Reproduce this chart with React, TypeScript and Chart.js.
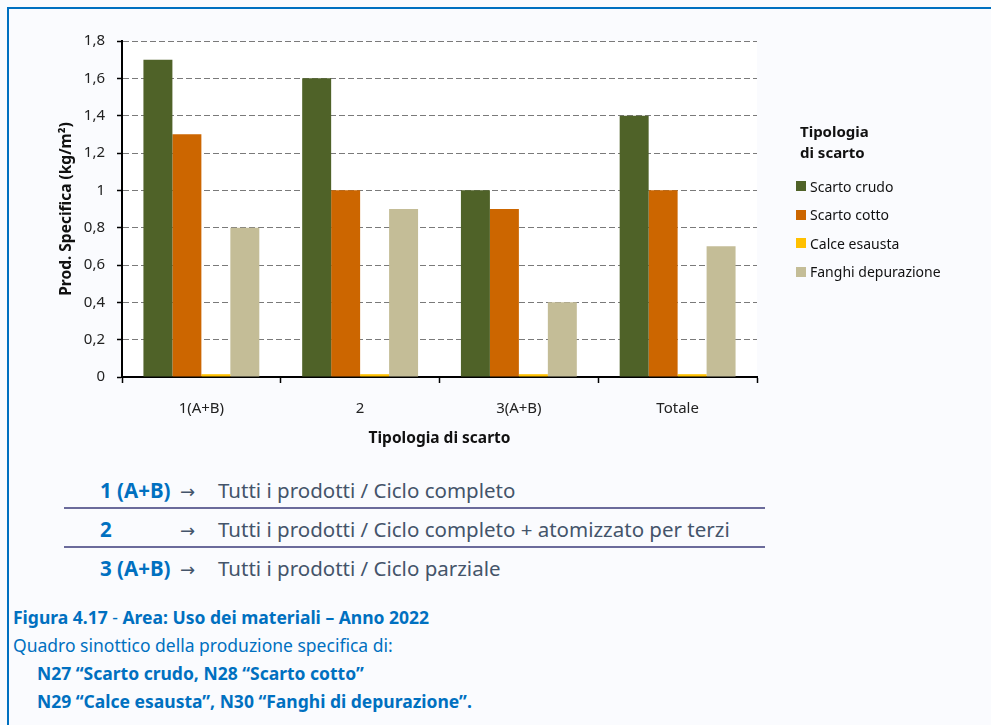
import React, { useEffect, useRef } from "react";
import { Chart, registerables } from "chart.js";

Chart.register(...registerables);

const categories = ["1(A+B)", "2", "3(A+B)", "Totale"];
const seriesNames = ["Scarto crudo", "Scarto cotto", "Calce esausta", "Fanghi depurazione"];
const scartoCrudo = [1.7, 1.6, 1.0, 1.4];
const scartoCotto = [1.3, 1.0, 0.9, 1.0];
const calceEsausta = [0.015, 0.015, 0.015, 0.015];
const fanghiDepurazione = [0.8, 0.9, 0.4, 0.7];
const seriesColors = ["#4F6228", "#CC6600", "#FFC000", "#C4BD97"];
const yMin = 0;
const yMax = 1.8;
const yStep = 0.2;

const yTitle = "Prod. Specifica (kg/m²)";
const xTitle = "Tipologia di scarto";
const legendTitle = ["Tipologia", "di scarto"];

const tableRows = [
  { code: "1 (A+B)", text: "Tutti i prodotti / Ciclo completo" },
  { code: "2", text: "Tutti i prodotti / Ciclo completo + atomizzato per terzi" },
  { code: "3 (A+B)", text: "Tutti i prodotti / Ciclo parziale" },
];

const FONT = "'Noto Sans', 'Open Sans', sans-serif";
const BLUE = "#0070C0";

const chartAreaBg = {
  id: "chartAreaBg",
  beforeDraw(chart: any) {
    const { ctx, chartArea } = chart;
    if (!chartArea) return;
    ctx.save();
    ctx.fillStyle = "#FFFFFF";
    ctx.fillRect(chartArea.left, chartArea.top, chartArea.right - chartArea.left, chartArea.bottom - chartArea.top);
    ctx.restore();
  },
};

export default function App() {
  const ref = useRef<HTMLCanvasElement | null>(null);

  useEffect(() => {
    if (!ref.current) return;
    const data = [scartoCrudo, scartoCotto, calceEsausta, fanghiDepurazione];
    const chart = new Chart(ref.current, {
      type: "bar",
      data: {
        labels: categories,
        datasets: seriesNames.map((name, i) => ({
          label: name,
          data: data[i],
          backgroundColor: seriesColors[i],
          borderWidth: 0,
          categoryPercentage: 0.73,
          barPercentage: 1,
        })),
      },
      options: {
        responsive: false,
        animation: false,
        devicePixelRatio: 1,
        layout: { padding: { left: 50, right: 234, top: 41, bottom: 0 } },
        plugins: {
          legend: { display: false },
          tooltip: { enabled: false },
        },
        scales: {
          x: {
            offset: true,
            grid: {
              offset: true,
              drawOnChartArea: false,
              drawTicks: true,
              tickLength: 6,
              tickColor: "#000",
              tickWidth: 1.5,
            },
            border: { color: "#000", width: 2 },
            ticks: { color: "#222", font: { family: FONT, size: 15 }, padding: 17 },
            title: {
              display: true,
              text: xTitle,
              color: "#111",
              font: { family: FONT, size: 15.5, weight: "bold" },
              padding: { top: 0, bottom: 12 },
            },
            afterFit: (s: any) => {
              s.height = 83;
            },
          },
          y: {
            min: yMin,
            max: yMax,
            grid: {
              color: "#7A7A7A",
              lineWidth: 1,
              tickLength: 5,
              tickColor: "#000",
              tickWidth: 1.5,
              tickBorderDash: [],
            },
            border: { color: "#000", width: 2, dash: [6, 3] },
            ticks: {
              stepSize: yStep,
              color: "#222",
              font: { family: FONT, size: 15 },
              padding: 12,
              callback: (v: any) => String(+Number(v).toFixed(1)).replace(".", ","),
            },
            title: {
              display: true,
              text: yTitle,
              color: "#111",
              font: { family: FONT, size: 15.5, weight: "bold" },
              padding: { top: 7, bottom: 0 },
            },
            afterFit: (s: any) => {
              s.width = 72;
            },
          },
        },
      },
      plugins: [chartAreaBg],
    });
    return () => chart.destroy();
  }, []);

  const rowTops = [477, 516, 555];
  return (
    <div
      style={{
        position: "absolute",
        left: 0,
        top: 0,
        width: 991,
        height: 725,
        background: "#FAFBFE",
        overflow: "hidden",
        fontFamily: FONT,
      }}
    >
      <div
        style={{
          position: "absolute",
          left: 7,
          top: 7,
          width: 991,
          height: 725,
          borderTop: `2px solid ${BLUE}`,
          borderLeft: `2px solid ${BLUE}`,
        }}
      />
      <canvas ref={ref} width={991} height={460} style={{ position: "absolute", left: 0, top: 0, width: 991, height: 460 }} />
      {/* legend */}
      <div style={{ position: "absolute", left: 800, top: 121, fontSize: 15, fontWeight: 700, color: "#111", lineHeight: "21px" }}>
        {legendTitle.map((t) => (
          <div key={t}>{t}</div>
        ))}
      </div>
      {seriesNames.map((name, i) => (
        <div key={name} style={{ position: "absolute", left: 796, top: 176 + i * 28.5, height: 20, display: "flex", alignItems: "center", fontSize: 14, color: "#111" }}>
          <span style={{ display: "inline-block", width: 10, height: 10, background: seriesColors[i], marginRight: 4 }} />
          <span>{name}</span>
        </div>
      ))}
      {/* table */}
      {tableRows.map((r, i) => (
        <div key={r.code} style={{ position: "absolute", left: 100, top: rowTops[i], height: 26, fontSize: 20.5, lineHeight: "26px", whiteSpace: "nowrap" }}>
          <span style={{ position: "absolute", left: 0, color: BLUE, fontWeight: 700 }}>{r.code}</span>
          <span style={{ position: "absolute", left: 80, top: 2, color: "#44546A", fontFamily: "'DejaVu Sans', sans-serif", fontSize: 18, lineHeight: "26px" }}>→</span>
          <span style={{ position: "absolute", left: 118, color: "#44546A" }}>{r.text}</span>
        </div>
      ))}
      <div style={{ position: "absolute", left: 64, top: 507, width: 701, height: 2, background: "#6B6B9B" }} />
      <div style={{ position: "absolute", left: 64, top: 546, width: 701, height: 2, background: "#6B6B9B" }} />
      {/* caption */}
      <div style={{ position: "absolute", left: 13, top: 603, color: BLUE, fontSize: 17.5, lineHeight: "28px", whiteSpace: "nowrap" }}>
        <div>
          <b>Figura 4.17</b> - <b>Area: Uso dei materiali – Anno 2022</b>
        </div>
        <div>Quadro sinottico della produzione specifica di:</div>
        <div style={{ paddingLeft: 24, fontWeight: 700 }}>N27 “Scarto crudo, N28 “Scarto cotto”</div>
        <div style={{ paddingLeft: 24, fontWeight: 700 }}>N29 “Calce esausta”, N30 “Fanghi di depurazione”.</div>
      </div>
    </div>
  );
}
